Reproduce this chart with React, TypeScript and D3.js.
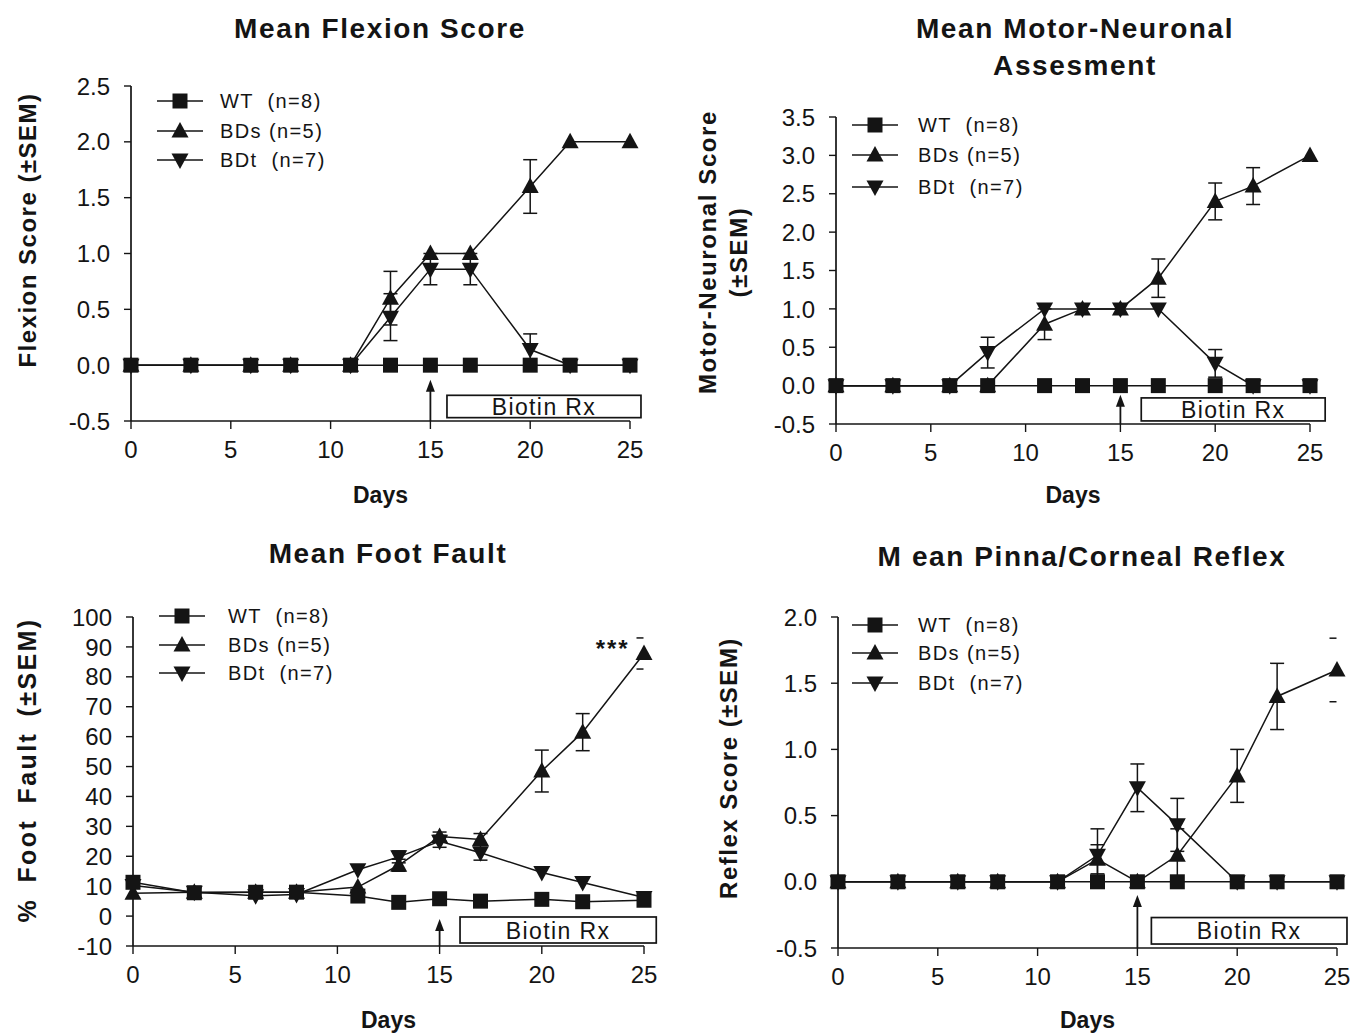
import React from 'react';
import * as d3 from 'd3';

// sampling days shared by every panel
const days = [0, 3, 6, 8, 11, 13, 15, 17, 20, 22, 25];

// Mean Flexion Score
const flexWT = [0, 0, 0, 0, 0, 0, 0, 0, 0, 0, 0];
const flexBDs = [0, 0, 0, 0, 0, 0.6, 1.0, 1.0, 1.6, 2.0, 2.0];
const flexBDsSem = [0, 0, 0, 0, 0, 0.24, 0, 0, 0.24, 0, 0];
const flexBDt = [0, 0, 0, 0, 0, 0.43, 0.86, 0.86, 0.14, 0, 0];
const flexBDtSem = [0, 0, 0, 0, 0, 0.21, 0.14, 0.14, 0.14, 0, 0];

// Mean Motor-Neuronal Assesment
const motorWT = [0, 0, 0, 0, 0, 0, 0, 0, 0, 0, 0];
const motorBDs = [0, 0, 0, 0, 0.8, 1.0, 1.0, 1.4, 2.4, 2.6, 3.0];
const motorBDsSem = [0, 0, 0, 0, 0.2, 0, 0, 0.25, 0.24, 0.24, 0];
const motorBDt = [0, 0, 0, 0.43, 1.0, 1.0, 1.0, 1.0, 0.29, 0, 0];
const motorBDtSem = [0, 0, 0, 0.2, 0, 0, 0, 0, 0.18, 0, 0];

// Mean Foot Fault (%)
const footWT = [11.3, 7.8, 8, 8, 6.7, 4.6, 5.8, 5, 5.6, 4.8, 5.3];
const footBDs = [7.6, 8, 8, 8, 9.7, 17, 26.6, 25.6, 48.5, 61.5, 87.8];
const footBDsSem = [0, 0, 0, 0, 0, 2, 1.5, 2, 7, 6.2, 5.2];
const footBDt = [10.2, 8, 6.8, 7.2, 15.5, 19.8, 25, 21.2, 14.6, 11.2, 6.2];
const footBDtSem = [0, 0, 0, 0, 0, 2, 2, 2.5, 0, 0, 0];

// Mean Pinna/Corneal Reflex
const reflexWT = [0, 0, 0, 0, 0, 0, 0, 0, 0, 0, 0];
const reflexBDs = [0, 0, 0, 0, 0, 0.17, 0, 0.2, 0.8, 1.4, 1.6];
const reflexBDsSem = [0, 0, 0, 0, 0, 0.11, 0, 0.2, 0.2, 0.25, 0.24];
const reflexBDt = [0, 0, 0, 0, 0, 0.2, 0.71, 0.43, 0, 0, 0];
const reflexBDtSem = [0, 0, 0, 0, 0, 0.2, 0.18, 0.2, 0, 0, 0];

const groupLabels = ['WT  (n=8)', 'BDs (n=5)', 'BDt  (n=7)'];
const groupShapes = ['square', 'up', 'down'];
const xTicks = [0, 5, 10, 15, 20, 25];

const INK = '#141414';
const FONT = 'Arial, "Liberation Sans", Helvetica, sans-serif';

function markerPath(shape: string, x: number, y: number) {
  if (shape === 'square') return `M${x - 7.5},${y - 7.5}h15v15h-15Z`;
  if (shape === 'up') return `M${x},${y - 9}L${x + 8.5},${y + 6.5}L${x - 8.5},${y + 6.5}Z`;
  return `M${x},${y + 9}L${x + 8.5},${y - 6.5}L${x - 8.5},${y - 6.5}Z`;
}

type PanelProps = {
  title: string[];
  titleX: number;
  titleY: number;
  yTitle: string[];
  yTitleX: number;
  yTitleY: number;
  yTitleStyle: { size: number; ls: number; ws: number };
  xRange: [number, number];
  yDomain: [number, number];
  yRange: [number, number];
  yStep: number;
  yFormat: string;
  series: { values: number[]; sem: number[] }[];
  capOnlyLast?: boolean;
  legendX: number;
  legendY: number[];
  legendTextX: number;
  box: [number, number, number, number];
  arrowTop: number;
  daysY: number;
  stars?: [number, number];
};

function Panel(p: PanelProps) {
  const x = d3.scaleLinear().domain([0, 25]).range(p.xRange);
  const y = d3.scaleLinear().domain(p.yDomain).range(p.yRange);
  const yTicks = d3.range(p.yDomain[0], p.yDomain[1] + p.yStep / 2, p.yStep);
  const fmt = (v: number) => d3.format(p.yFormat)(v).replace('\u2212', '-');
  const x0 = p.xRange[0];
  const yBase = y(p.yDomain[0]);
  const line = d3.line<number>().x((_, i) => x(days[i])).y(d => y(d));
  const order = [2, 1, 0];
  const [bx0, bx1, by0, by1] = p.box;

  return (
    <g>
      {p.title.map((t, i) => (
        <text key={t} x={p.titleX} y={p.titleY + i * 37} textAnchor="middle" fontSize={28} fontWeight="bold"
          letterSpacing={1.6} fill={INK} style={{ whiteSpace: 'pre' }}>{t}</text>
      ))}
      <g transform={`translate(${p.yTitleX},${p.yTitleY}) rotate(-90)`}>
        {p.yTitle.map((t, i) => (
          <text key={t} x={0} y={i * 31} textAnchor="middle" fontSize={p.yTitleStyle.size} fontWeight="bold"
            letterSpacing={p.yTitleStyle.ls} wordSpacing={p.yTitleStyle.ws} fill={INK}>{t}</text>
        ))}
      </g>

      {/* axes */}
      <line x1={x0} x2={x0} y1={y(p.yDomain[1])} y2={yBase} stroke={INK} strokeWidth={1.7} />
      <line x1={x0} x2={p.xRange[1]} y1={yBase} y2={yBase} stroke={INK} strokeWidth={1.7} />
      {yTicks.map(t => (
        <g key={t}>
          <line x1={x0 - 7} x2={x0} y1={y(t)} y2={y(t)} stroke={INK} strokeWidth={1.4} />
          <text x={x0 - 21} y={y(t)} dy="0.36em" textAnchor="end" fontSize={24} fill={INK}>{fmt(t)}</text>
        </g>
      ))}
      {xTicks.map(t => (
        <g key={t}>
          <line x1={x(t)} x2={x(t)} y1={yBase} y2={yBase + 8} stroke={INK} strokeWidth={1.4} />
          <text x={x(t)} y={yBase + 37} textAnchor="middle" fontSize={24} fill={INK}>{t}</text>
        </g>
      ))}
      <text x={(x(0) + x(25)) / 2} y={p.daysY} textAnchor="middle" fontSize={23} fontWeight="bold" fill={INK}>Days</text>

      {/* biotin treatment marker */}
      <rect x={x(bx0)} y={y(by0)} width={x(bx1) - x(bx0)} height={y(by1) - y(by0)} fill="#fff" stroke={INK} strokeWidth={1.7} />
      <text x={(x(bx0) + x(bx1)) / 2} y={(y(by0) + y(by1)) / 2} dy="0.37em" textAnchor="middle" fontSize={23}
        letterSpacing={1.4} fill={INK}>Biotin Rx</text>
      <line x1={x(15)} x2={x(15)} y1={yBase} y2={y(p.arrowTop) + 6} stroke={INK} strokeWidth={1.8} />
      <path d={`M${x(15)},${y(p.arrowTop)}l-4.5,12h9Z`} fill={INK} />

      {/* error bars */}
      {order.map(si => p.series[si].sem.map((s, i) => {
        if (!s) return null;
        const v = p.series[si].values[i];
        const cx = x(days[i]);
        const capOnly = p.capOnlyLast && i === days.length - 1;
        const cc = capOnly ? cx - 4 : cx;
        const hw = capOnly ? 3.5 : 7;
        return (
          <g key={`e${si}-${i}`} stroke={INK} strokeWidth={1.5}>
            {!capOnly && <line x1={cx} x2={cx} y1={y(v - s)} y2={y(v + s)} />}
            <line x1={cc - hw} x2={cc + hw} y1={y(v + s)} y2={y(v + s)} />
            <line x1={cc - hw} x2={cc + hw} y1={y(v - s)} y2={y(v - s)} />
          </g>
        );
      }))}

      {/* series lines and markers */}
      {order.map(si => (
        <g key={`s${si}`}>
          <path d={line(p.series[si].values) || ''} fill="none" stroke={INK} strokeWidth={1.5} />
          {p.series[si].values.map((v, i) => (
            <path key={i} d={markerPath(groupShapes[si], x(days[i]), y(v))} fill={INK} />
          ))}
        </g>
      ))}

      {p.stars && (
        <text x={x(p.stars[0])} y={y(p.stars[1])} dy="0.55em" textAnchor="end" fontSize={24} fontWeight="bold"
          letterSpacing={2} fill={INK}>***</text>
      )}

      {/* legend */}
      {groupLabels.map((lab, i) => (
        <g key={lab}>
          <line x1={p.legendX} x2={p.legendX + 46} y1={p.legendY[i]} y2={p.legendY[i]} stroke={INK} strokeWidth={1.5} />
          <path d={markerPath(groupShapes[i], p.legendX + 23, p.legendY[i])} fill={INK} />
          <text x={p.legendTextX} y={p.legendY[i]} dy="0.36em" fontSize={20} letterSpacing={1.4} fill={INK}
            style={{ whiteSpace: 'pre' }}>{lab}</text>
        </g>
      ))}
    </g>
  );
}

export default function App() {
  return (
    <svg width={1365} height={1036} style={{ position: 'absolute', left: 0, top: 0, background: '#fff' }} fontFamily={FONT}>
      <rect width={1365} height={1036} fill="#fff" />
      <Panel
        title={['Mean Flexion Score']} titleX={380} titleY={38}
        yTitle={['Flexion Score (±SEM)']} yTitleX={36} yTitleY={230} yTitleStyle={{ size: 24, ls: 1.5, ws: 0 }}
        xRange={[131, 630]} yDomain={[-0.5, 2.5]} yRange={[421, 86]} yStep={0.5} yFormat=".1f"
        series={[{ values: flexWT, sem: [] }, { values: flexBDs, sem: flexBDsSem }, { values: flexBDt, sem: flexBDtSem }]}
        legendX={157} legendY={[101, 131, 160]} legendTextX={220}
        box={[15.83, 25.55, -0.27, -0.47]} arrowTop={-0.13} daysY={503}
      />
      <Panel
        title={['Mean Motor-Neuronal', 'Assesment']} titleX={1075} titleY={38}
        yTitle={['Motor-Neuronal Score', '(±SEM)']} yTitleX={716} yTitleY={252} yTitleStyle={{ size: 24, ls: 1.6, ws: 0 }}
        xRange={[836, 1310]} yDomain={[-0.5, 3.5]} yRange={[424, 117]} yStep={0.5} yFormat=".1f"
        series={[{ values: motorWT, sem: [] }, { values: motorBDs, sem: motorBDsSem }, { values: motorBDt, sem: motorBDtSem }]}
        legendX={852} legendY={[125, 155, 187]} legendTextX={918}
        box={[16.1, 25.8, -0.16, -0.46]} arrowTop={-0.12} daysY={503}
      />
      <Panel
        title={['Mean Foot Fault']} titleX={388} titleY={563}
        yTitle={['% Foot Fault (±SEM)']} yTitleX={36} yTitleY={770} yTitleStyle={{ size: 25, ls: 2.4, ws: 6 }}
        xRange={[133, 644]} yDomain={[-10, 100]} yRange={[946, 617]} yStep={10} yFormat="d"
        series={[{ values: footWT, sem: [] }, { values: footBDs, sem: footBDsSem }, { values: footBDt, sem: footBDtSem }]}
        capOnlyLast
        legendX={159} legendY={[616, 645, 673]} legendTextX={228}
        box={[16.0, 25.6, -0.3, -9]} arrowTop={-1} daysY={1028} stars={[24.3, 91]}
      />
      <Panel
        title={['M ean Pinna/Corneal Reflex']} titleX={1082} titleY={566}
        yTitle={['Reflex Score (±SEM)']} yTitleX={737} yTitleY={768} yTitleStyle={{ size: 24, ls: 1.5, ws: 0 }}
        xRange={[838, 1337]} yDomain={[-0.5, 2.0]} yRange={[948, 617]} yStep={0.5} yFormat=".1f"
        series={[{ values: reflexWT, sem: [] }, { values: reflexBDs, sem: reflexBDsSem }, { values: reflexBDt, sem: reflexBDtSem }]}
        capOnlyLast
        legendX={852} legendY={[625, 653, 683]} legendTextX={918}
        box={[15.7, 25.5, -0.27, -0.47]} arrowTop={-0.1} daysY={1028}
      />
    </svg>
  );
}
